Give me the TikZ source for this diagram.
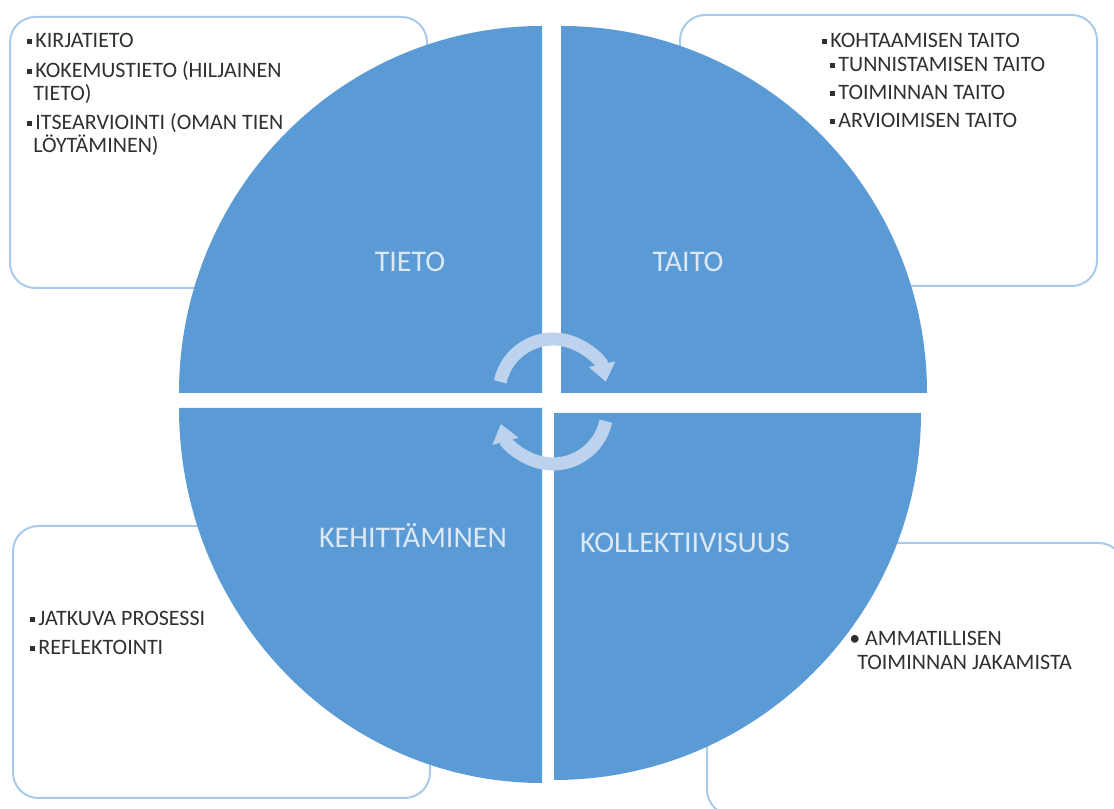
\documentclass[tikz,border=0pt]{standalone}
\usepackage{fontspec}
\setmainfont{Carlito}
\usetikzlibrary{arrows.meta}

\definecolor{quadblue}{HTML}{5B9BD5}
\definecolor{boxline}{HTML}{A9CBEB}
\definecolor{cyclearrow}{HTML}{BDD2EC}
\definecolor{quadtext}{HTML}{DDE8F5}
\definecolor{itemgray}{HTML}{303030}
\newcommand{\sqb}{\rule[0.2em]{0.23em}{0.23em}\hspace{0.14em}}

\begin{document}
\begin{tikzpicture}[x=0.75pt,y=0.75pt,
    infobox/.style={draw=boxline, line width=1.5pt, rounded corners=19pt, fill=white},
    quarter/.style={fill=quadblue},
    quadlabel/.style={anchor=base, inner sep=0pt, text=quadtext, font=\fontsize{22.5}{27}\selectfont},
    itemline/.style={anchor=base west, inner sep=0pt, text=itemgray, font=\fontsize{16.5}{20}\selectfont},
    cyclearc/.style={draw=cyclearrow, line width=9.75pt, -{Triangle[length=13.5pt,width=19.5pt]}}]
       \clip (0,0) rectangle (1114,809);
       % Draw the four text boxes behind the circle
       \draw[infobox] (10,521) rectangle (427,792);
       \draw[infobox] (680,523) rectangle (1097,794);
       \draw[infobox] (13,11) rectangle (430,283);
       \draw[infobox] (707,-6) rectangle (1124,266);
       % Draw the four quarters
       \fill[quarter] (542,416) -- ++(-363,0) arc[start angle=180, end angle=90, x radius=363, y radius=367] -- cycle;
       \fill[quarter] (561,416) -- ++(0,367) arc[start angle=90, end angle=0, x radius=366, y radius=367] -- cycle;
       \fill[quarter] (542,401) -- ++(0,-375) arc[start angle=270, end angle=180, x radius=363, y radius=375] -- cycle;
       \fill[quarter] (554,396) -- ++(367,0) arc[start angle=0, end angle=-90, x radius=367, y radius=367] -- cycle;
       % Quarter labels
       \node[quadlabel] (tieto) at (410,537) {TIETO};
       \node[quadlabel] (taito) at (688,537) {TAITO};
       \node[quadlabel] (kehit) at (413,261) {KEHITTÄMINEN};
       \node[quadlabel] (koll) at (685,256) {KOLLEKTIIVISUUS};
       % Cycle arrows in the middle
       \draw[cyclearc] (553,416) ++(168:54) arc[start angle=168, end angle=12, radius=54];
       \draw[cyclearc] (553,399) ++(-12:54) arc[start angle=-12, end angle=-165, radius=54];
       % Box texts
       \node[itemline] (tl_1) at (27,761) {\sqb KIRJATIETO};
       \node[itemline] (tl_2) at (27,731) {\sqb KOKEMUSTIETO (HILJAINEN};
       \node[itemline] (tl_3) at (33,708) {TIETO)};
       \node[itemline] (tl_4) at (27,679) {\sqb ITSEARVIOINTI (OMAN TIEN};
       \node[itemline] (tl_5) at (33,656) {LÖYTÄMINEN)};
       \node[itemline] (tr_1) at (822,761) {\sqb KOHTAAMISEN TAITO};
       \node[itemline] (tr_2) at (830,737) {\sqb TUNNISTAMISEN TAITO};
       \node[itemline] (tr_3) at (830,709) {\sqb TOIMINNAN TAITO};
       \node[itemline] (tr_4) at (830,681) {\sqb ARVIOIMISEN TAITO};
       \node[itemline] (bl_1) at (30,183) {\sqb JATKUVA PROSESSI};
       \node[itemline] (bl_2) at (30,154) {\sqb REFLEKTOINTI};
       \node[itemline] (br_1) at (849,163) {• AMMATILLISEN};
       \node[itemline] (br_2) at (857,139) {TOIMINNAN JAKAMISTA};
\end{tikzpicture}
\end{document}
